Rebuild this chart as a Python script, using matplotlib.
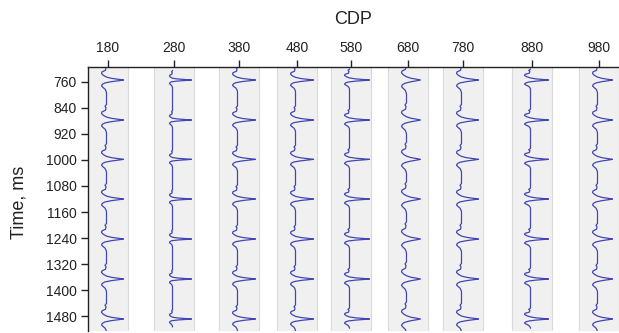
import numpy as np
import matplotlib
matplotlib.use("Agg")
import matplotlib.pyplot as plt

plt.rcParams['font.family'] = ['Liberation Sans', 'DejaVu Sans']

# CDP labels and where each trace sits along the axis (axis units)
cdp_labels = ['180', '280', '380', '480', '580', '680', '780', '880', '980']
trace_x = [20, 86, 151, 209, 263, 320, 375, 444, 511]

# times of the main (rightward) peaks, ms
peak_times = [754, 877, 998, 1120, 1243, 1366, 1489]

# one cycle of the trace (ms from peak, normalised amplitude)
cycle_t = [-48, -42, -38, -30, -25, -20, -14, -9, -5, -2, 0, 2, 5, 9, 13, 18, 23, 28, 34, 40]
cycle_a = [0, -0.3, -0.1, -0.2, -0.9, -1.0, -0.6, 0, 0.3, 0.75, 1.0, 0.75, 0.3, -0.3, -0.8, -1.0, -0.7, -0.3, -0.1, 0]

# per-trace peak size, trough size and wavelet width
peak_amp = [17, 19, 18, 18, 20, 14, 17, 18, 15]
trough_amp = [5, 3, 5, 5, 5, 5, 5, 6, 5]
width = [1.0, 0.6, 0.9, 0.9, 0.7, 1.1, 1.0, 0.7, 1.0]

yticks = [760, 840, 920, 1000, 1080, 1160, 1240, 1320, 1400, 1480]

fig = plt.figure(figsize=(6.19, 3.33), dpi=100)
ax = fig.add_axes([88 / 619, 2 / 333, 531 / 619, 264 / 333])

ct = np.array(cycle_t, dtype=float)
ca = np.array(cycle_a, dtype=float)

for i, x0 in enumerate(trace_x):
    ax.axvspan(x0 - 20, x0 + 20, facecolor='#f0f0f0', edgecolor='#dadada', lw=0.8, zorder=0)
    amp = np.where(ca > 0, ca * peak_amp[i], ca * trough_amp[i])
    ts, xs = [], []
    for p in peak_times:
        ts.extend(p + ct * width[i])
        xs.extend(x0 - 1.5 + amp)
    ax.plot(xs, ts, color='#4146b2', lw=0.9, zorder=2)

ax.set_xlim(0, 531)
ax.set_ylim(1526, 714)
ax.set_yticks(yticks)
ax.set_xticks(trace_x)
ax.set_xticklabels(cdp_labels)
ax.xaxis.tick_top()
ax.xaxis.set_label_position('top')
ax.tick_params(axis='x', length=5, width=1, pad=4, labelsize=10, colors='#222222')
ax.tick_params(axis='y', length=5, width=1, pad=3, labelsize=10, colors='#222222')
for s in ['right', 'bottom']:
    ax.spines[s].set_visible(False)
for s in ['top', 'left']:
    ax.spines[s].set_linewidth(1)
    ax.spines[s].set_color('#222222')

fig.text(353.5 / 619, 1 - 20 / 333, 'CDP', ha='center', va='center', fontsize=13, color='#222222')
fig.text(18.5 / 619, 1 - 202 / 333, 'Time, ms', ha='center', va='center', rotation=90,
         fontsize=13, color='#222222')

fig.savefig('out.png', dpi=100)
